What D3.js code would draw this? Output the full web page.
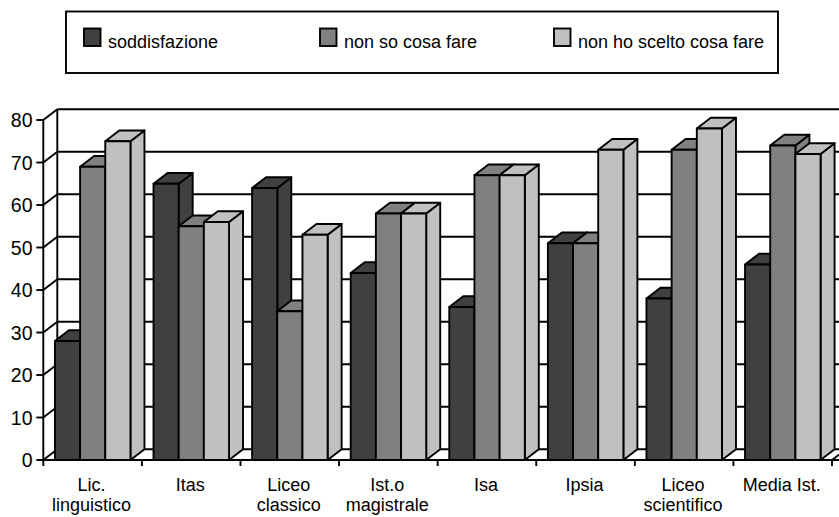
<!DOCTYPE html>
<html>
<head>
<meta charset="utf-8">
<script src="https://cdn.jsdelivr.net/npm/d3@7"></script>
<style>
  html, body { margin: 0; padding: 0; background: #fff; }
  svg text { font-family: "Liberation Sans", Arial, sans-serif; fill: #000; }
</style>
</head>
<body>
<svg id="chart" width="839" height="517"></svg>
<script>
// Survey results by school type (percent)
const categories = [
  ["Lic.", "linguistico"], ["Itas"], ["Liceo", "classico"], ["Ist.o", "magistrale"],
  ["Isa"], ["Ipsia"], ["Liceo", "scientifico"], ["Media Ist."]
];
const seriesNames = ["soddisfazione", "non so cosa fare", "non ho scelto cosa fare"];
const soddisfazione = [28, 65, 64, 44, 36, 51, 38, 46];
const nonSoCosaFare = [69, 55, 35, 58, 67, 51, 73, 74];
const nonHoSceltoCosaFare = [75, 56, 53, 58, 67, 73, 78, 72];
const yTicks = [0, 10, 20, 30, 40, 50, 60, 70, 80];
const seriesColors = ["#404040", "#808080", "#c0c0c0"];

const seriesValues = [soddisfazione, nonSoCosaFare, nonHoSceltoCosaFare];

const svg = d3.select("#chart");
const SW = 1.9;

// plot geometry (front plane) and depth offset of the 3D box
const plotLeft = 43.3, plotRight = 832, plotTop = 120, plotBottom = 460;
const DX = 14, DY = -10.8;

const y = d3.scaleLinear().domain([0, 80]).range([plotBottom, plotTop]);
const catKeys = categories.map((c, i) => i);
const x0 = d3.scaleBand().domain(catKeys).range([plotLeft, plotRight]).padding(0);
const w = x0.bandwidth();
const x1 = d3.scaleBand().domain(d3.range(seriesNames.length))
  .range([w * 0.118, w * 0.884]).padding(0);

const color = d3.scaleOrdinal().domain(d3.range(3)).range(seriesColors);

const g = svg.append("g");
const line = (ax, ay, bx, by) => g.append("line")
  .attr("x1", ax).attr("y1", ay).attr("x2", bx).attr("y2", by)
  .attr("stroke", "#000").attr("stroke-width", SW);

// back wall gridlines and side wall diagonals
yTicks.forEach(t => {
  line(plotLeft + DX, y(t) + DY, plotRight + DX + 20, y(t) + DY);
  line(plotLeft, y(t), plotLeft + DX, y(t) + DY);
});
// side wall edges
line(plotLeft, y(0), plotLeft, y(80));
line(plotLeft + DX, y(0) + DY, plotLeft + DX, y(80) + DY);
// floor
line(plotLeft, y(0), plotRight + DX, y(0));
line(plotRight, y(0), plotRight + DX, y(0) + DY);

// left axis ticks and labels
yTicks.forEach(t => {
  line(plotLeft - 7, y(t), plotLeft, y(t));
  g.append("text")
    .attr("x", 32.5).attr("y", y(t)).attr("dy", "0.36em")
    .attr("text-anchor", "end").attr("font-size", 19.5)
    .text(t);
});

// category ticks under the floor
d3.range(categories.length + 1).forEach(i => {
  const xx = i < categories.length ? x0(i) : plotRight;
  line(xx, plotBottom, xx, plotBottom + 6);
});

// bars: side, top then front so the next bar overlaps the previous side face
const bars = g.append("g");
categories.forEach((c, ci) => {
  seriesValues.forEach((vals, si) => {
    const bx = x0(ci) + x1(si), bw = x1.bandwidth();
    const by = y(vals[ci]), b0 = y(0);
    const fill = color(si);
    const poly = pts => bars.append("polygon")
      .attr("points", pts.map(p => p.join(",")).join(" "))
      .attr("fill", fill).attr("stroke", "#000")
      .attr("stroke-width", SW).attr("stroke-linejoin", "round");
    poly([[bx + bw, by], [bx + bw, b0], [bx + bw + DX, b0 + DY], [bx + bw + DX, by + DY]]);
    poly([[bx, by], [bx + bw, by], [bx + bw + DX, by + DY], [bx + DX, by + DY]]);
    poly([[bx, by], [bx + bw, by], [bx + bw, b0], [bx, b0]]);
  });
});

// category labels
categories.forEach((c, ci) => {
  const t = g.append("text")
    .attr("text-anchor", "middle").attr("font-size", 18);
  c.forEach((ln, li) => {
    t.append("tspan")
      .attr("x", x0(ci) + w / 2 - 1)
      .attr("y", 491 + li * 19.5)
      .text(ln);
  });
});

// legend
const legend = svg.append("g");
legend.append("rect")
  .attr("x", 66).attr("y", 11.5).attr("width", 712).attr("height", 61.5)
  .attr("fill", "#fff").attr("stroke", "#000").attr("stroke-width", SW);
const legendX = [84, 320, 554];
seriesNames.forEach((name, i) => {
  legend.append("rect")
    .attr("x", legendX[i]).attr("y", 28.5).attr("width", 16.5).attr("height", 17.5)
    .attr("fill", color(i)).attr("stroke", "#000").attr("stroke-width", SW);
  legend.append("text")
    .attr("x", legendX[i] + 24).attr("y", 47.5)
    .attr("font-size", 18)
    .text(name);
});
</script>
</body>
</html>
